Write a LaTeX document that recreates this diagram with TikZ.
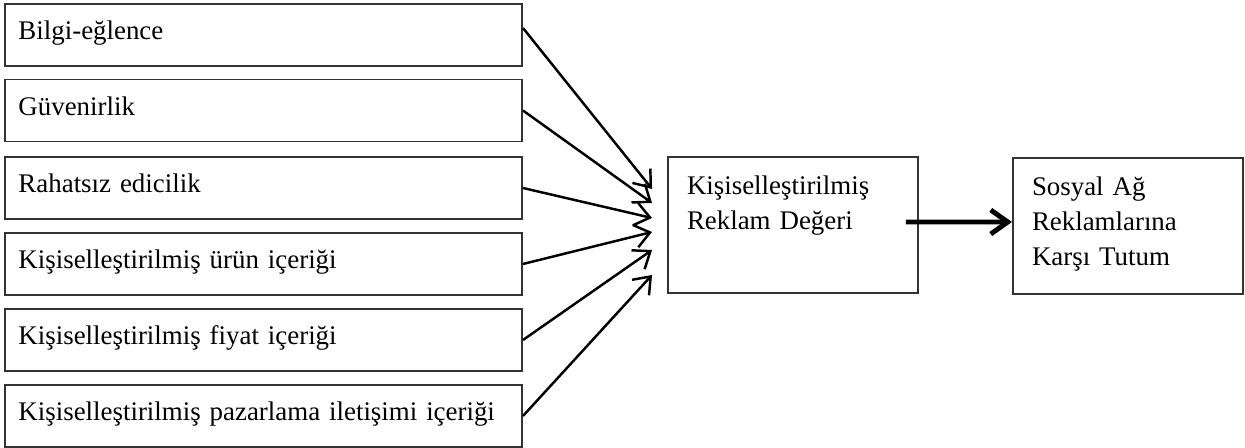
\documentclass[tikz,border=0pt]{standalone}
\usepackage{fontspec}
\setmainfont{Liberation Serif}
\usetikzlibrary{arrows.meta,positioning,calc}

\begin{document}
\begin{tikzpicture}[
    factorbox/.style={draw=black!80, line width=1.1pt, inner xsep=0.27cm, inner ysep=0pt,
                text width=9.8cm, text height=0.72cm, text depth=0.52cm,
                align=left, font=\fontsize{15.3pt}{19.9pt}\selectfont},
    mainbox/.style={draw=black!80, line width=1.1pt, inner xsep=0.38cm, inner ysep=0pt,
                text height=0.76cm, text depth=1.96cm,
                align=left, font=\fontsize{15.3pt}{19.9pt}\selectfont},
    arr/.style={-{Straight Barb[length=3mm, width=4.6mm]}, line width=1.4pt},
    bigarr/.style={-{Straight Barb[length=3.4mm, width=4.8mm]}, line width=2.8pt}
  ]
    \useasboundingbox (0,0) rectangle (24.9,-8.96);

    % Factors
    \node[factorbox] (bilgi)   at (5.27, -0.70) {Bilgi-eğlence};
    \node[factorbox] (guven)   at (5.27, -2.21) {Güvenirlik};
    \node[factorbox] (rahat)   at (5.27, -3.76) {Rahatsız edicilik};
    \node[factorbox] (urun)    at (5.27, -5.28) {Kişiselleştirilmiş ürün içeriği};
    \node[factorbox] (fiyat)   at (5.27, -6.80) {Kişiselleştirilmiş fiyat içeriği};
    \node[factorbox] (iletisim) at (5.27, -8.32) {Kişiselleştirilmiş pazarlama iletişimi içeriği};

    % Ad value and attitude
    \node[mainbox, text width=4.24cm] (deger)  at (15.86, -4.50)
      {Kişiselleştirilmiş\\Reklam Değeri};
    \node[mainbox, text width=3.84cm] (tutum)  at (22.56, -4.52)
      {Sosyal Ağ\\Reklamlarına\\Karşı Tutum};

    % Arrow ends in front of the ad value box
    \coordinate (t1) at ([xshift=-0.3cm, yshift=0.72cm]deger.west);
    \coordinate (t2) at ([xshift=-0.3cm, yshift=0.44cm]deger.west);
    \coordinate (t3) at ([xshift=-0.3cm, yshift=0.14cm]deger.west);
    \coordinate (t4) at ([xshift=-0.3cm, yshift=-0.14cm]deger.west);
    \coordinate (t5) at ([xshift=-0.3cm, yshift=-0.50cm]deger.west);
    \coordinate (t6) at ([xshift=-0.3cm, yshift=-1.00cm]deger.west);

    \draw[arr] ([yshift=0.14cm]bilgi.east) -- (t1);
    \draw[arr] (guven.east)    -- (t2);
    \draw[arr] (rahat.east)    -- (t3);
    \draw[arr] (urun.east)     -- (t4);
    \draw[arr] (fiyat.east)    -- (t5);
    \draw[arr] (iletisim.east) -- (t6);

    \draw[bigarr] ([xshift=-0.26cm, yshift=0.06cm]deger.east) -- ([yshift=0.08cm]tutum.west);
\end{tikzpicture}
\end{document}
